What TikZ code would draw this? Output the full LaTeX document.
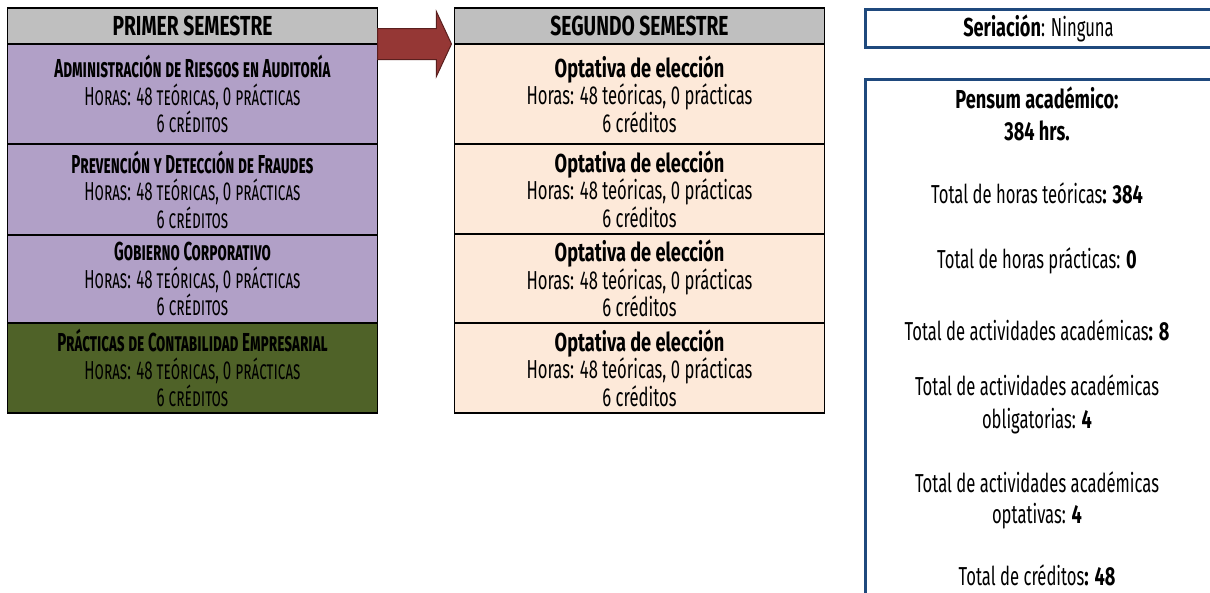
\documentclass[tikz,border=0pt]{standalone}
\usepackage{fontspec}
\setmainfont[FakeStretch=0.64,BoldFeatures={FakeStretch=0.7}]{Fira Sans}
\newfontfamily\titulo[FakeStretch=0.58]{Fira Sans}
\newfontfamily\cabeza[FakeStretch=0.7]{Fira Sans}
\usetikzlibrary{positioning,shapes.arrows}
\definecolor{gris}{HTML}{BFBFBF}
\definecolor{lila}{HTML}{B1A0C7}
\definecolor{olivo}{HTML}{4F6228}
\definecolor{durazno}{HTML}{FDE9D9}
\definecolor{vino}{HTML}{953735}
\definecolor{vinoosc}{HTML}{5A1F1E}
\definecolor{azul}{HTML}{1F497D}

\begin{document}
\begin{tikzpicture}[x=1pt,y=-1pt,node distance=0pt,
  every node/.style={font=\fontsize{26}{27.5}\selectfont}]

  \tikzstyle{cell}=[rectangle,draw=black,line width=1.5pt,outer sep=0pt,
                    inner sep=0pt,minimum width=370pt,align=center]
  \tikzstyle{head}=[cell,fill=gris,minimum height=36pt,
                    font=\fontsize{27.5}{27.5}\cabeza\bfseries]
  \tikzstyle{obl}=[cell,fill=lila,font=\fontsize{26}{27.5}\titulo]
  \tikzstyle{prac}=[obl,fill=olivo]
  \tikzstyle{opt}=[cell,fill=durazno]
  \tikzstyle{flecha}=[single arrow,fill=vino,draw=vinoosc,line width=1pt,
                      minimum height=74pt,minimum width=64pt,
                      single arrow head extend=17pt,single arrow tip angle=130,
                      inner xsep=0pt,inner ysep=15pt,outer sep=0pt]
  \tikzstyle{marco}=[rectangle,draw=azul,line width=3pt,outer sep=0pt,
                     anchor=north west,minimum width=347pt]
  \tikzstyle{dato}=[anchor=base,inner sep=0pt]

  \useasboundingbox (0,0) rectangle (1210,592);
  \clip (0,0) rectangle (1210,592);

  % primer semestre
  \node [head] (semA) at (192.5,26) {PRIMER SEMESTRE};
  \node [obl,minimum height=100pt] (admin) [below=of semA]
    {\textbf{\textsc{Administración de Riesgos en Auditoría}}\\
     \textsc{Horas: 48 teóricas, 0 prácticas}\\ \textsc{6 créditos}};
  \node [obl,minimum height=91pt] (fraude) [below=of admin]
    {\textbf{\textsc{Prevención y Detección de Fraudes}}\\
     \textsc{Horas: 48 teóricas, 0 prácticas}\\ \textsc{6 créditos}};
  \node [obl,minimum height=88pt] (gobierno) [below=of fraude]
    {\textbf{\textsc{Gobierno Corporativo}}\\
     \textsc{Horas: 48 teóricas, 0 prácticas}\\ \textsc{6 créditos}};
  \node [prac,minimum height=90pt] (contab) [below=of gobierno]
    {\textbf{\textsc{Prácticas de Contabilidad Empresarial}}\\
     \textsc{Horas: 48 teóricas, 0 prácticas}\\ \textsc{6 créditos}};

  % segundo semestre
  \node [head] (semB) at (639.5,26) {SEGUNDO SEMESTRE};
  \node [opt,minimum height=100pt] (optA) [below=of semB]
    {\textbf{Optativa de elección}\\ Horas: 48 teóricas, 0 prácticas\\ 6 créditos};
  \node [opt,minimum height=90pt] (optB) [below=of optA]
    {\textbf{Optativa de elección}\\ Horas: 48 teóricas, 0 prácticas\\ 6 créditos};
  \node [opt,minimum height=89pt] (optC) [below=of optB]
    {\textbf{Optativa de elección}\\ Horas: 48 teóricas, 0 prácticas\\ 6 créditos};
  \node [opt,minimum height=90pt] (optD) [below=of optC]
    {\textbf{Optativa de elección}\\ Horas: 48 teóricas, 0 prácticas\\ 6 créditos};

  \node [flecha,anchor=tail] (paso) at (semA.south east) {};

  % resumen
  \node [marco,minimum height=38pt] (seriacion) at (865,9)
    {\textbf{Seriación}: Ninguna};
  \node [marco,minimum height=540pt] (pensum) at (865,79) {};

  \foreach \n/\y/\t in {p1/108/\textbf{Pensum académico:},
                        p2/140/\textbf{384 hrs.},
                        teo/203/{Total de horas teóricas\textbf{: 384}},
                        pra/268/{Total de horas prácticas: \textbf{0}},
                        act/340/{Total de actividades académicas\textbf{: 8}},
                        ob1/395/Total de actividades académicas,
                        ob2/428/{obligatorias: \textbf{4}},
                        op1/492/Total de actividades académicas,
                        op2/523/{optativas: \textbf{4}},
                        cre/585/{Total de créditos\textbf{: 48}}}
    \node [dato] (\n) at (1037,\y) {\t};

\end{tikzpicture}
\end{document}
